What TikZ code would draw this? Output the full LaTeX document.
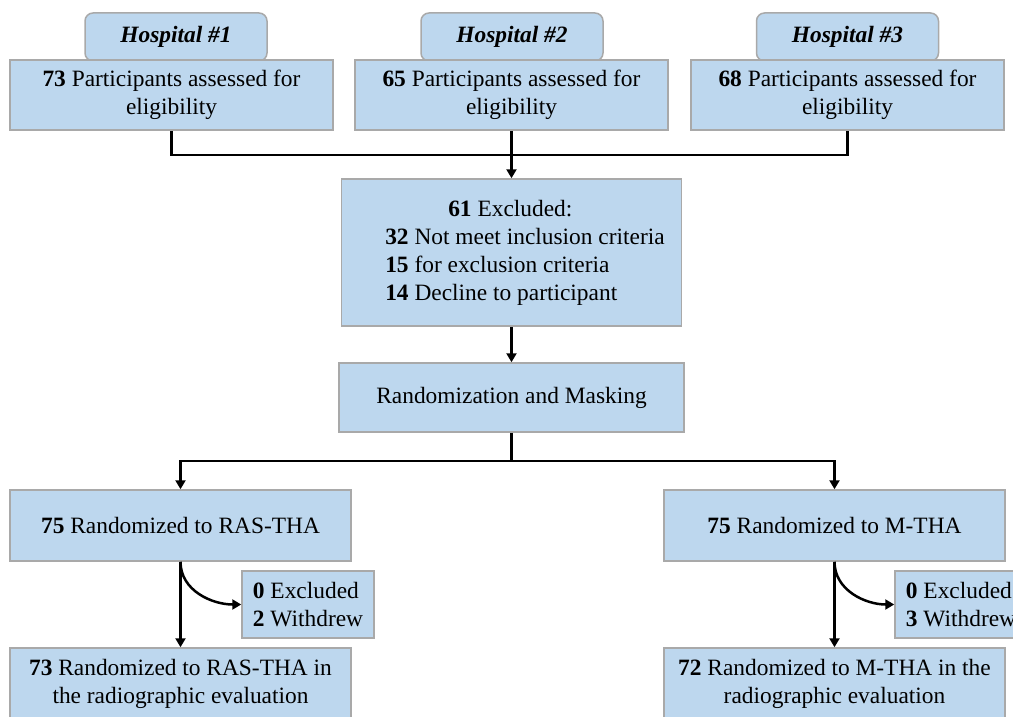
\documentclass[tikz,border=0pt]{standalone}
\usepackage{fontspec}
\setmainfont{Liberation Serif}
\usetikzlibrary{arrows.meta}
\definecolor{boxfill}{HTML}{BDD7EE}
\definecolor{boxline}{HTML}{A9A9A9}
\begin{document}
\begin{tikzpicture}[x=1pt,y=-1pt]
    \tikzstyle{every node}+=[inner sep=0pt, font=\fontsize{23.4}{28}\selectfont]
    \tikzstyle{box}=[draw=boxline, fill=boxfill, line width=1.5pt, align=center]
    \tikzstyle{tab}=[box, rounded corners=8pt, font=\fontsize{23.4}{28}\selectfont\bfseries\itshape]
    \tikzstyle{link}=[black, line width=2.5pt]
    \tikzstyle{arrow}=[link, -{Triangle[length=9pt,width=10pt]}]
    \clip (0,0) rectangle (1013,717);
    % hospitals
    \node [tab, minimum width=182, minimum height=48] (h1) at (176,37) {Hospital \#1};
    \node [tab, minimum width=182, minimum height=48] (h2) at (512,37) {Hospital \#2};
    \node [tab, minimum width=182, minimum height=48] (h3) at (847.5,37) {Hospital \#3};
    \node [box, minimum width=323, minimum height=70] (p1) at (171.5,95) {\textbf{73} Participants assessed for\\eligibility};
    \node [box, minimum width=313, minimum height=70] (p2) at (511.5,95) {\textbf{65} Participants assessed for\\eligibility};
    \node [box, minimum width=313, minimum height=70] (p3) at (847.5,95) {\textbf{68} Participants assessed for\\eligibility};
    % exclusion and randomization
    \node [box, align=left, minimum width=340, minimum height=147] (excl) at (511.5,252.5)
        {\hspace*{90pt}\textbf{61} Excluded:\\\hspace*{27pt}\textbf{32} Not meet inclusion criteria\\\hspace*{27pt}\textbf{15} for exclusion criteria\\\hspace*{27pt}\textbf{14} Decline to participant};
    \node [box, minimum width=345, minimum height=69] (rand) at (511.5,397.5) {Randomization and Masking};
    % arms
    \node [box, minimum width=341, minimum height=71] (ras) at (180.5,525.5) {\textbf{75} Randomized to RAS-THA};
    \node [box, minimum width=341, minimum height=71] (mtha) at (834.5,525.5) {\textbf{75} Randomized to M-THA};
    \node [box, align=left, minimum width=132, minimum height=67] (out1) at (308,604.5) {\textbf{0} Excluded\\\textbf{2} Withdrew};
    \node [box, align=left, minimum width=132, minimum height=67] (out2) at (961,604.5) {\textbf{0} Excluded\\\textbf{3} Withdrew};
    \node [box, minimum width=341, minimum height=72] (ras2) at (180.5,684) {\textbf{73} Randomized to RAS-THA in\\the radiographic evaluation};
    \node [box, minimum width=341, minimum height=72] (mtha2) at (834.5,684) {\textbf{72} Randomized to M-THA in the\\radiographic evaluation};
    % connectors
    \coordinate (join) at (511.5,155);
    \coordinate (split) at (511.5,461);
    \draw [link] (p1.south) |- (join) -| (p3.south);
    \draw [arrow] (p2.south) -- (excl.north);
    \draw [arrow] (excl.south) -- (rand.north);
    \draw [link] (rand.south) -- (split);
    \draw [arrow] (split) -| (ras.north);
    \draw [arrow] (split) -| (mtha.north);
    \draw [arrow] (ras.south) -- (ras2.north);
    \draw [arrow] (mtha.south) -- (mtha2.north);
    \draw [arrow] (ras.south) to [out=-90, in=180] (out1.west);
    \draw [arrow] (mtha.south) to [out=-90, in=180] (out2.west);
\end{tikzpicture}
\end{document}
